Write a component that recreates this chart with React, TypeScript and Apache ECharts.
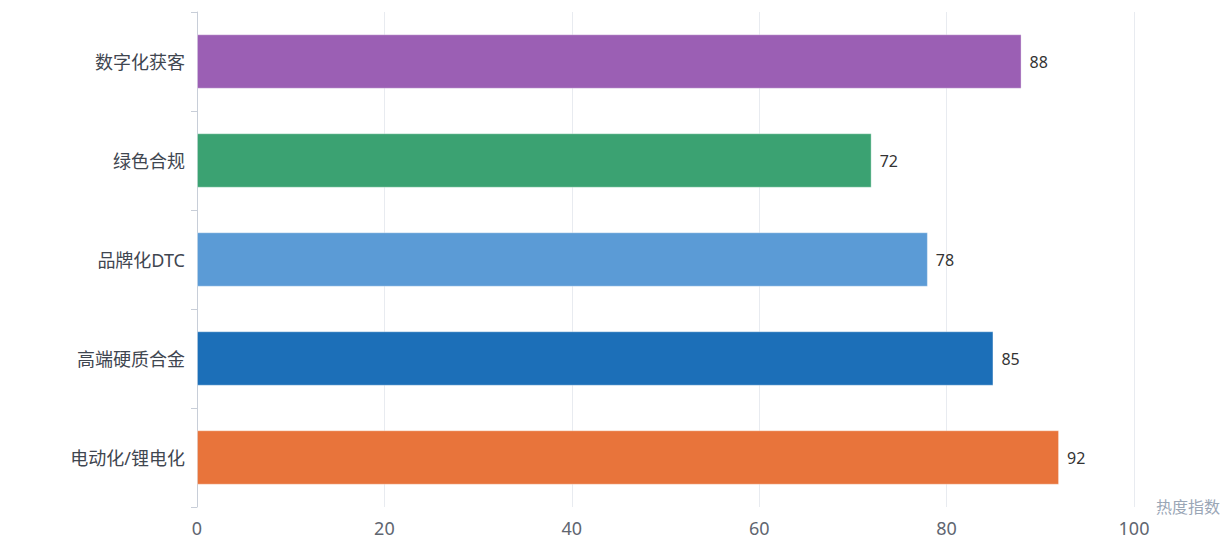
import React, { useEffect, useRef } from "react";
import * as echarts from "echarts";

const categories = ["电动化/锂电化", "高端硬质合金", "品牌化DTC", "绿色合规", "数字化获客"];
const values = [92, 85, 78, 72, 88];
const barColors = ["#e8743b", "#1c6fb8", "#5b9bd6", "#3ba272", "#9b5fb4"];
const xAxisName = "热度指数";

const FONT = "'Noto Sans', 'Noto Sans CJK SC', sans-serif";

export default function App() {
  const ref = useRef<HTMLDivElement>(null);
  useEffect(() => {
    if (!ref.current) return;
    const chart = echarts.init(ref.current, null, { renderer: "svg" });
    chart.setOption({
      animation: false,
      textStyle: { fontFamily: FONT },
      grid: { left: 189, width: 945, top: 4, height: 495, containLabel: false },
      xAxis: {
        type: "value",
        min: 0,
        max: 100,
        interval: 20,
        name: xAxisName,
        nameLocation: "end",
        nameGap: 22,
        nameTextStyle: { color: "#9aa6b6", fontSize: 16, fontFamily: FONT },
        axisLine: { show: false },
        axisTick: { show: false },
        axisLabel: { color: "#5f6670", fontSize: 18, margin: 12, fontFamily: FONT },
        splitLine: { show: true, lineStyle: { color: "#e8ebf0", width: 1 } },
      },
      yAxis: {
        type: "category",
        data: categories,
        axisLine: { show: true, lineStyle: { color: "#c8ced8", width: 1 } },
        axisTick: { show: true, length: 6, lineStyle: { color: "#c8ced8" } },
        axisLabel: { color: "#3f4650", fontSize: 18, margin: 12, fontFamily: FONT },
        splitLine: { show: false },
      },
      series: [
        {
          type: "bar",
          barWidth: "55%",
          data: values.map((v, i) => ({
            value: v,
            itemStyle: { color: barColors[i], borderColor: "rgba(255,255,255,0.35)", borderWidth: 1 },
          })),
          label: {
            show: true,
            position: "right",
            distance: 8,
            color: "#333333",
            fontSize: 16,
            fontFamily: FONT,
          },
        },
      ],
    });
    return () => chart.dispose();
  }, []);
  return <div ref={ref} style={{ width: 1215, height: 535, overflow: "hidden" }} />;
}
